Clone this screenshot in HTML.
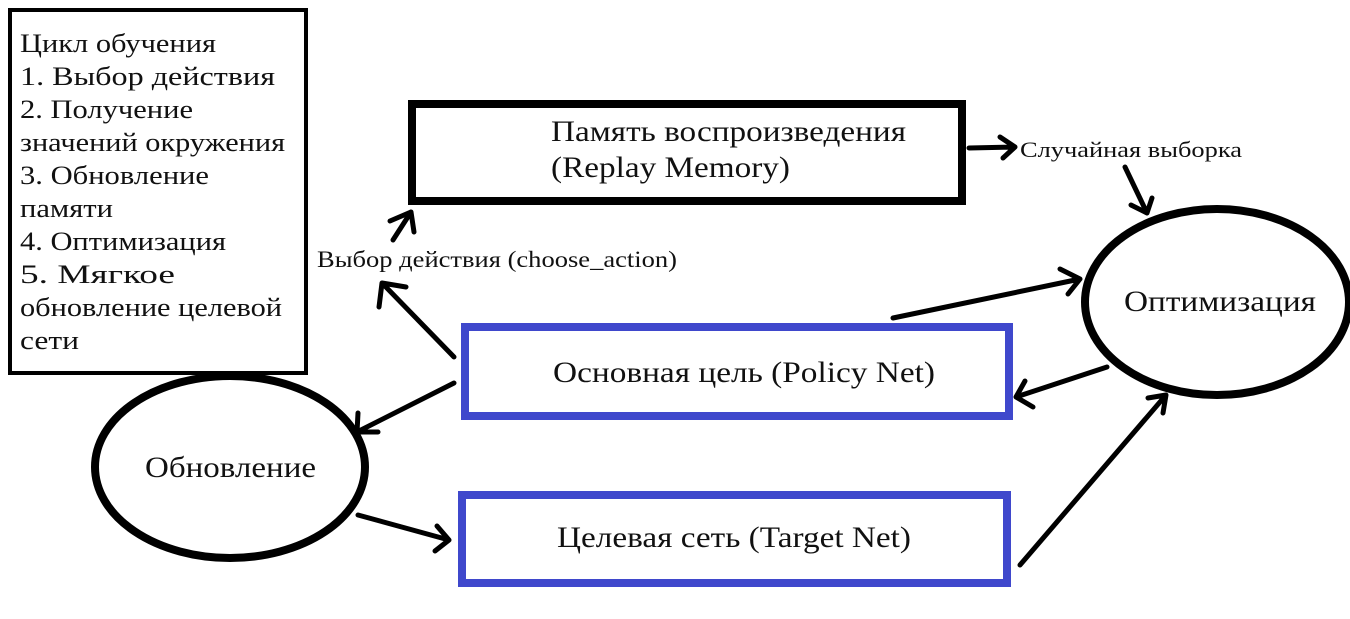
<!DOCTYPE html>
<html><head><meta charset="utf-8"><style>
html,body{margin:0;padding:0;background:#fff;width:1350px;height:619px;overflow:hidden}
svg{display:block}
text{font-family:"Liberation Serif",serif;fill:#111}
</style></head><body>
<svg width="1350" height="619" viewBox="0 0 1350 619" xmlns="http://www.w3.org/2000/svg">
<rect x="10" y="10" width="296" height="363" fill="none" stroke="#000" stroke-width="4"/>
<g font-size="26" lengthAdjust="spacingAndGlyphs">
<text x="20" y="52" textLength="196" lengthAdjust="spacingAndGlyphs">Цикл обучения</text>
<text x="20" y="85" textLength="255" lengthAdjust="spacingAndGlyphs">1. Выбор действия</text>
<text x="20" y="118" textLength="173" lengthAdjust="spacingAndGlyphs">2. Получение</text>
<text x="20" y="151" textLength="265" lengthAdjust="spacingAndGlyphs">значений окружения</text>
<text x="20" y="184" textLength="189" lengthAdjust="spacingAndGlyphs">3. Обновление</text>
<text x="20" y="217" textLength="93" lengthAdjust="spacingAndGlyphs">памяти</text>
<text x="20" y="250" textLength="206" lengthAdjust="spacingAndGlyphs">4. Оптимизация</text>
<text x="20" y="283" textLength="155" lengthAdjust="spacingAndGlyphs">5. Мягкое</text>
<text x="20" y="316" textLength="262" lengthAdjust="spacingAndGlyphs">обновление целевой</text>
<text x="20" y="349" textLength="59" lengthAdjust="spacingAndGlyphs">сети</text>
</g>
<rect x="412" y="104" width="550" height="97" fill="none" stroke="#000" stroke-width="8"/>
<text x="551" y="141" font-size="30" textLength="355" lengthAdjust="spacingAndGlyphs">Память воспроизведения</text>
<text x="551" y="177" font-size="30" textLength="239" lengthAdjust="spacingAndGlyphs">(Replay Memory)</text>
<rect x="465" y="327" width="544" height="89" fill="none" stroke="#3f48cc" stroke-width="8"/>
<text x="553" y="382" font-size="30" textLength="382" lengthAdjust="spacingAndGlyphs">Основная цель (Policy Net)</text>
<rect x="462" y="495" width="545" height="88" fill="none" stroke="#3f48cc" stroke-width="8"/>
<text x="557" y="547" font-size="30" textLength="354" lengthAdjust="spacingAndGlyphs">Целевая сеть (Target Net)</text>
<ellipse cx="230" cy="467" rx="135" ry="91" fill="none" stroke="#000" stroke-width="8"/>
<text x="145" y="477" font-size="30" textLength="171" lengthAdjust="spacingAndGlyphs">Обновление</text>
<ellipse cx="1217" cy="302" rx="132" ry="93" fill="none" stroke="#000" stroke-width="8"/>
<text x="1124" y="311" font-size="30" textLength="192" lengthAdjust="spacingAndGlyphs">Оптимизация</text>
<text x="317" y="267" font-size="23" textLength="360" lengthAdjust="spacingAndGlyphs">Выбор действия (choose_action)</text>
<text x="1020" y="157" font-size="22" textLength="222" lengthAdjust="spacingAndGlyphs">Случайная выборка</text>
<g fill="none" stroke="#000" stroke-width="5" stroke-linecap="round" stroke-linejoin="round">
<path d="M393,240 L411,212 M390,221 L411,212 L414,232"/>
<path d="M454,357 L382,283 M379,307 L382,283 L406,287"/>
<path d="M454,383 L357,432 M358,413 L357,432 L378,432"/>
<path d="M358,515 L449,540 M437,526 L449,540 L435,551"/>
<path d="M969,148 L1015,147 M1000,137 L1015,147 L1003,158"/>
<path d="M1125,167 L1147,213 M1131,205 L1147,213 L1152,198"/>
<path d="M893,318 L1080,279 M1060,269 L1080,279 L1068,294"/>
<path d="M1107,367 L1016,397 M1025,381 L1016,397 L1033,407"/>
<path d="M1020,565 L1166,395 M1148,398 L1166,395 L1163,413"/>
</g>
</svg>
</body></html>
